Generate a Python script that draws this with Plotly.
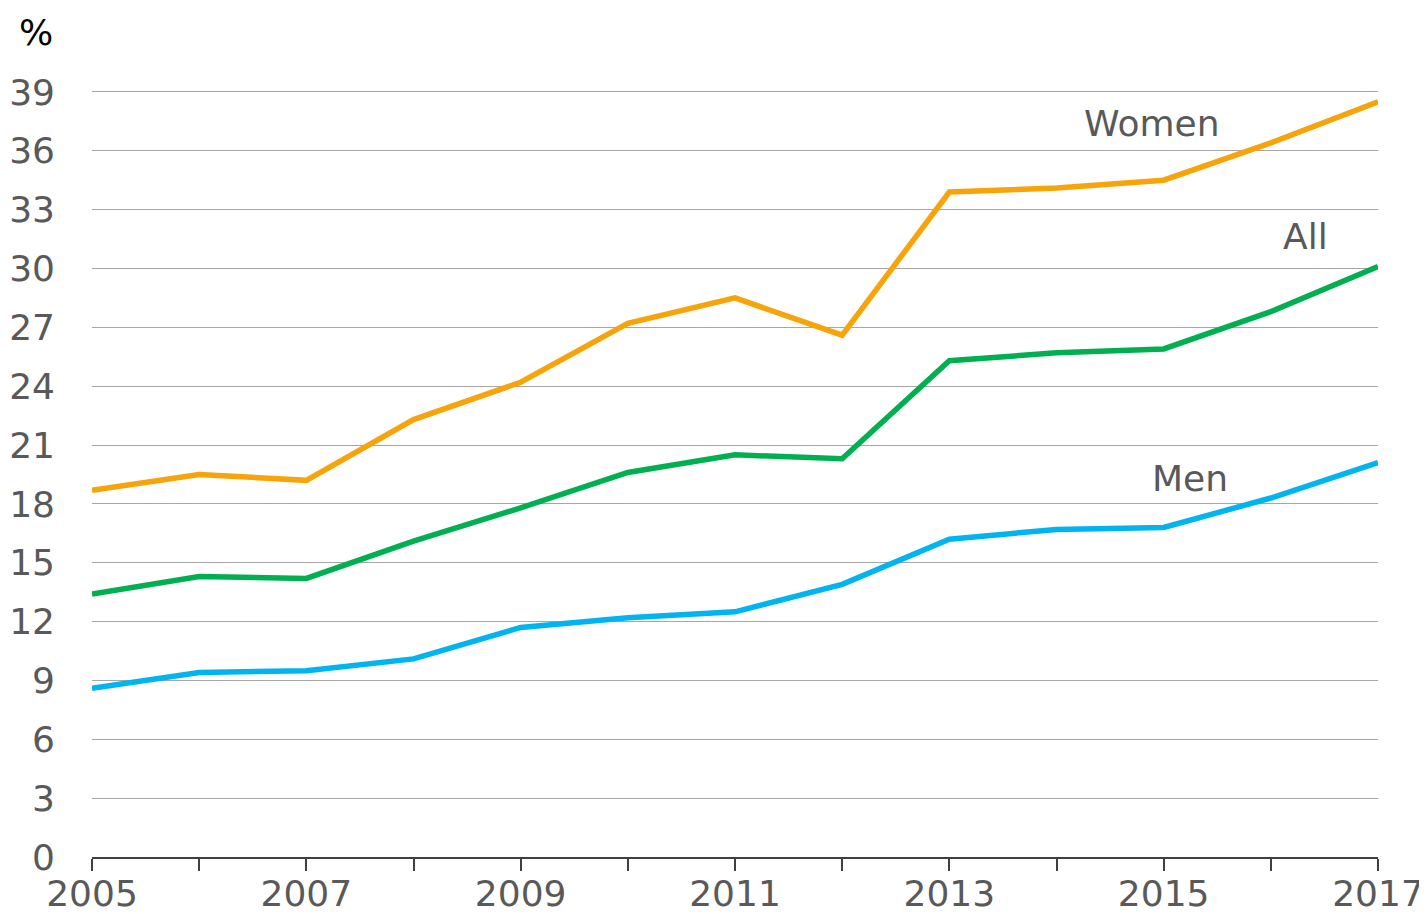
import plotly.graph_objects as go

years = list(range(2005, 2018))
women = [18.7, 19.5, 19.2, 22.3, 24.2, 27.2, 28.5, 26.6, 33.9, 34.1, 34.5, 36.4, 38.5]
all_ = [13.4, 14.3, 14.2, 16.1, 17.8, 19.6, 20.5, 20.3, 25.3, 25.7, 25.9, 27.8, 30.1]
men = [8.6, 9.4, 9.5, 10.1, 11.7, 12.2, 12.5, 13.9, 16.2, 16.7, 16.8, 18.3, 20.1]
y_ticks = list(range(0, 40, 3))
x_ticktext = [str(y) if (y - 2005) % 2 == 0 else "" for y in years]

FONT = "DejaVu Sans"
TXT = "#595959"

fig = go.Figure()
for name, vals, col in [("Women", women, "#F7A30A"), ("All", all_, "#00B050"), ("Men", men, "#00B4F0")]:
    fig.add_trace(go.Scatter(x=years, y=vals, mode="lines", name=name,
                             line=dict(color=col, width=5.5), showlegend=False))

labels = [("Women", 2014.89, 37.4), ("All", 2016.32, 31.65), ("Men", 2015.25, 19.3)]
for t, x, y in labels:
    fig.add_annotation(x=x, y=y, text=t, showarrow=False,
                       font=dict(family=FONT, size=36, color=TXT))

fig.add_annotation(xref="paper", yref="paper", x=-0.0435, y=1.0, yshift=57,
                   text="%", showarrow=False, xanchor="center", yanchor="middle",
                   font=dict(family=FONT, size=36, color="#000000"))

fig.update_layout(
    width=1419, height=906,
    margin=dict(l=84, r=49, t=81, b=57, autoexpand=False),
    plot_bgcolor="white", paper_bgcolor="white",
    font=dict(family=FONT, size=36, color=TXT),
    xaxis=dict(range=[2005, 2017], tickvals=years, ticktext=x_ticktext,
               ticks="outside", ticklen=12, tickcolor="#404040", tickwidth=1.5,
               showline=True, linecolor="#404040", linewidth=1.5,
               showgrid=False, zeroline=False, fixedrange=True, automargin=False,
               ticklabelstandoff=-8,
               tickfont=dict(family=FONT, size=36, color=TXT)),
    yaxis=dict(range=[0, 39.15], tickvals=y_ticks, showgrid=True,
               gridcolor="#A6A6A6", gridwidth=1.3, zeroline=False, automargin=False,
               showline=False, ticks="", ticklabelstandoff=36,
               tickfont=dict(family=FONT, size=36, color=TXT)),
)

fig.write_html("out.html")
